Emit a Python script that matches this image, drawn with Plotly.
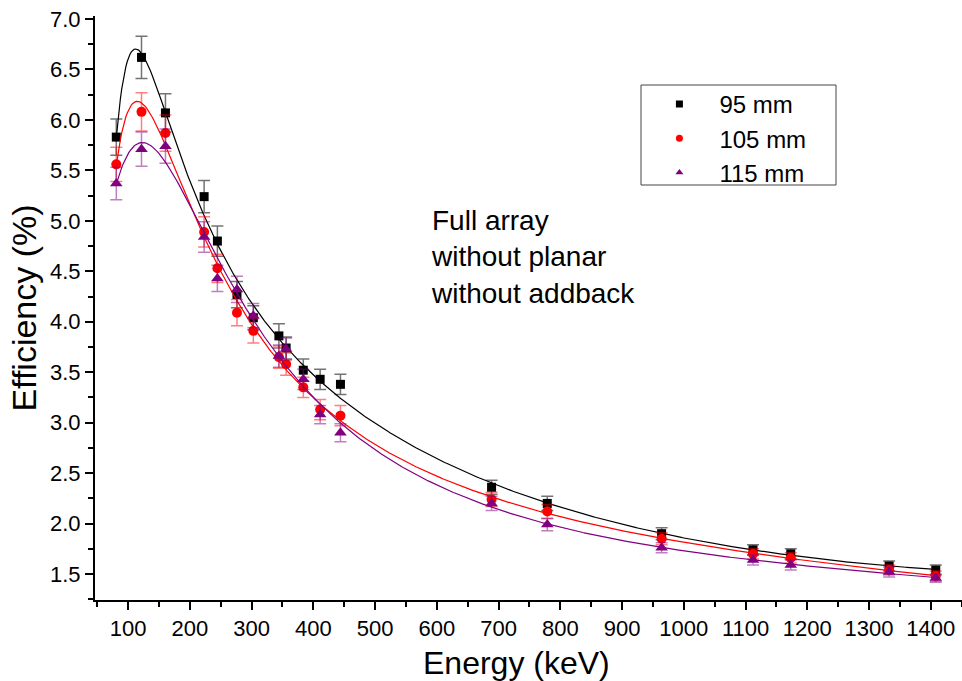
import numpy as np
import plotly.graph_objects as go

energy = [81.0, 121.8, 160.6, 223.2, 244.7, 276.4, 302.9, 344.3, 356.0, 383.8,
          411.1, 444.0, 688.7, 778.9, 964.1, 1112.1, 1173.2, 1332.5, 1408.0]

eff_95 = [5.83, 6.62, 6.07, 5.24, 4.80, 4.27, 4.04, 3.86, 3.74, 3.52,
          3.43, 3.38, 2.36, 2.20, 1.90, 1.74, 1.70, 1.58, 1.54]
err_95 = [0.18, 0.21, 0.19, 0.16, 0.15, 0.13, 0.12, 0.12, 0.11, 0.11,
          0.10, 0.10, 0.07, 0.07, 0.06, 0.05, 0.05, 0.05, 0.05]

eff_105 = [5.56, 6.08, 5.87, 4.89, 4.53, 4.09, 3.91, 3.65, 3.58, 3.35,
           3.13, 3.07, 2.24, 2.12, 1.85, 1.70, 1.66, 1.54, 1.48]
err_105 = [0.17, 0.19, 0.18, 0.15, 0.14, 0.13, 0.12, 0.11, 0.11, 0.10,
           0.10, 0.10, 0.07, 0.07, 0.06, 0.05, 0.05, 0.05, 0.05]

eff_115 = [5.37, 5.71, 5.74, 4.84, 4.43, 4.32, 4.06, 3.66, 3.73, 3.43,
           3.08, 2.90, 2.20, 1.99, 1.76, 1.64, 1.59, 1.52, 1.46]
err_115 = [0.16, 0.17, 0.17, 0.15, 0.13, 0.13, 0.12, 0.11, 0.11, 0.10,
           0.09, 0.09, 0.07, 0.06, 0.05, 0.05, 0.05, 0.05, 0.04]

series_names = ["95 mm", "105 mm", "115 mm"]
annotation_text = ["Full array", "without planar", "without addback"]

FONT = "Liberation Sans, Arial, sans-serif"

styles = [
    dict(color="#000000", err="rgba(0,0,0,0.55)", symbol="square", size=9),
    dict(color="#FF0000", err="rgba(255,0,0,0.5)", symbol="circle", size=10),
    dict(color="#800080", err="rgba(128,0,128,0.5)", symbol="triangle-up", size=11),
]

fig = go.Figure()
e_arr = np.array(energy)
grid = np.linspace(e_arr.min(), e_arr.max(), 600)

for name, eff, err, st in zip(series_names, [eff_95, eff_105, eff_115],
                              [err_95, err_105, err_115], styles):
    # fitted efficiency curve: polynomial in log-log space
    coef = np.polyfit(np.log(e_arr), np.log(np.array(eff)), 5,
                      w=np.array(eff) / np.array(err))
    fit = np.exp(np.polyval(coef, np.log(grid)))
    fig.add_trace(go.Scatter(x=grid, y=fit, mode="lines",
                             line=dict(color=st["color"], width=1.2),
                             showlegend=False, hoverinfo="skip"))
    fig.add_trace(go.Scatter(
        x=energy, y=eff, mode="markers", name=name, showlegend=False,
        marker=dict(symbol=st["symbol"], size=st["size"], color=st["color"]),
        error_y=dict(type="data", array=err, visible=True, color=st["err"],
                     thickness=1.5, width=6)))

# legend entries (smaller markers as in the reference)
for name, st in zip(series_names, styles):
    fig.add_trace(go.Scatter(
        x=[None], y=[None], mode="markers", name="\u00a0\u00a0\u00a0" + name,
        marker=dict(symbol=st["symbol"], size=7, color=st["color"])))

fig.update_layout(
    width=962, height=681,
    margin=dict(l=95, r=0, t=16, b=81),
    paper_bgcolor="white", plot_bgcolor="white",
    font=dict(family=FONT, color="black", size=22),
    showlegend=True,
    legend=dict(x=0.651, y=0.887, xanchor="left", yanchor="top",
                bgcolor="rgba(0,0,0,0)", borderwidth=0,
                font=dict(size=24, family=FONT), itemsizing="trace"),
    xaxis=dict(range=[46.5, 1450.5], tickmode="array",
               tickvals=list(range(100, 1401, 100)),
               ticks="outside", ticklen=8, tickwidth=1.5, tickcolor="black",
               showline=True, linecolor="black", linewidth=2,
               showgrid=False, zeroline=False,
               tickfont=dict(size=22, family=FONT),
               minor=dict(tickvals=list(range(50, 1451, 100)), ticks="outside",
                          ticklen=5, tickwidth=1.5, tickcolor="black")),
    yaxis=dict(range=[1.243, 7.03], tickmode="array",
               tickvals=[1.5, 2.0, 2.5, 3.0, 3.5, 4.0, 4.5, 5.0, 5.5, 6.0, 6.5, 7.0],
               tickformat=".1f",
               ticks="outside", ticklen=8, tickwidth=1.5, tickcolor="black",
               showline=True, linecolor="black", linewidth=2,
               showgrid=False, zeroline=False,
               tickfont=dict(size=22, family=FONT),
               minor=dict(tickvals=[1.25, 1.75, 2.25, 2.75, 3.25, 3.75, 4.25, 4.75,
                                    5.25, 5.75, 6.25, 6.75],
                          ticks="outside", ticklen=5, tickwidth=1.5, tickcolor="black"),
               title=dict(text="Efficiency (%)", font=dict(size=34, family=FONT), standoff=3)),
)

# x-axis title (slightly left of centre, as in the reference)
fig.add_annotation(x=(516 - 95) / 867, y=(600 - 663) / 584, xref="paper", yref="paper",
                   xanchor="center", yanchor="middle", showarrow=False,
                   text="Energy (keV)", font=dict(size=32, family=FONT, color="black"))

# legend frame
fig.add_shape(type="rect", xref="paper", yref="paper",
              x0=(641 - 95) / 867, x1=(836 - 95) / 867,
              y0=(600 - 185) / 584, y1=(600 - 85) / 584,
              line=dict(color="#444444", width=1), fillcolor="rgba(0,0,0,0)")

fig.add_annotation(x=587, y=5.18, xref="x", yref="y", xanchor="left", yanchor="top",
                   align="left", showarrow=False,
                   text="<br>".join(annotation_text),
                   font=dict(size=28, family=FONT, color="black"))

fig.write_html("out.html")
